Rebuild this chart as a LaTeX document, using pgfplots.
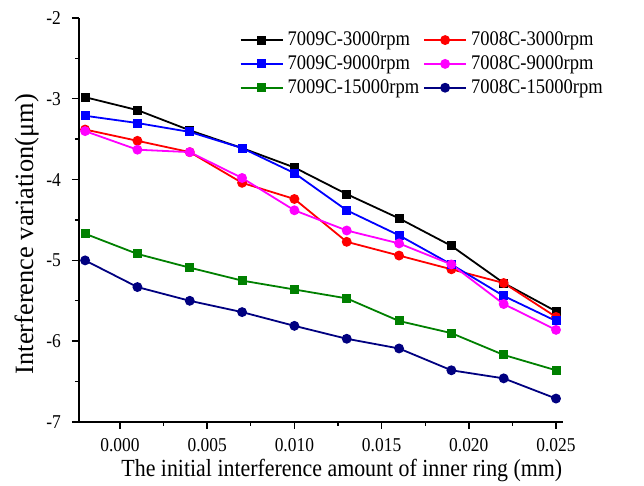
\documentclass[border=0pt]{standalone}
\usepackage{pgfplots}
\pgfplotsset{compat=1.18}
\usepackage{fontspec}
\setmainfont{Liberation Serif}[FakeStretch=0.89]
\newfontfamily\ylabfont{Liberation Serif}
\usetikzlibrary{calc}
\definecolor{cgreen}{RGB}{0,128,0}
\definecolor{cnavy}{RGB}{0,0,128}
\definecolor{cmag}{RGB}{255,0,255}
\definecolor{cred}{RGB}{255,0,0}
\definecolor{cblue}{RGB}{0,0,255}
\begin{document}
\begin{tikzpicture}
\begin{axis}[
  scale only axis, width=242pt, height=202pt,
  xmin=-0.00235, xmax=0.0254, ymin=-7, ymax=-2,
  axis lines*=left,
  x axis line style={-}, y axis line style={-},
  axis line style={line width=0.8pt},
  tick align=outside,
  major tick length=3.5pt, minor tick length=2pt,
  minor x tick num=1, minor y tick num=1,
  tick style={black, line width=0.7pt},
  xtick={0,0.005,0.01,0.015,0.02,0.025},
  ytick={-7,-6,-5,-4,-3,-2},
  scaled x ticks=false,
  /pgf/number format/assume math mode=true,
  xticklabel style={/pgf/number format/.cd, fixed, fixed zerofill, precision=3, /tikz/.cd, anchor=north, inner sep=0pt, yshift=-4.5pt},
  yticklabel style={xshift=-2pt},
  tick label style={font=\fontsize{9.8}{11}\selectfont},
  xlabel={The initial interference amount of inner ring (mm)},
  ylabel={Interference variation(μm)},
  xlabel style={at={(axis description cs:0.543,-0.1337)}, anchor=base, inner sep=1pt, font=\fontsize{12.3}{14}\selectfont},
  ylabel style={at={(axis description cs:-0.108,0.465)}, anchor=center, font=\ylabfont\fontsize{13.2}{15}\selectfont},
  legend columns=2,
  legend cell align=left,
  legend style={draw=none, fill=none, at={(axis description cs:0.319,0.987)}, anchor=north west,
    font=\fontsize{10.4}{12}\selectfont, row sep=-0.5pt,
    /tikz/every even column/.append style={column sep=0pt}},
  legend image code/.code={\draw[mark repeat=2,mark phase=2] plot coordinates {(0pt,0pt) (10.5pt,0pt) (21pt,0pt)};},
  clip=false,
]
\addplot[black, line width=0.9pt, mark=square*, mark size=1.8pt] coordinates {
(-0.002,-2.98) (0.001,-3.14) (0.004,-3.39) (0.007,-3.61) (0.010,-3.85) (0.013,-4.18) (0.016,-4.48) (0.019,-4.82) (0.022,-5.28) (0.025,-5.63)};
\addlegendentry{7009C-3000rpm}
\addplot[cred, line width=0.9pt, mark=*, mark size=2pt] coordinates {
(-0.002,-3.38) (0.001,-3.52) (0.004,-3.66) (0.007,-4.04) (0.010,-4.24) (0.013,-4.77) (0.016,-4.94) (0.019,-5.11) (0.022,-5.28) (0.025,-5.70)};
\addlegendentry{7008C-3000rpm}
\addplot[cblue, line width=0.9pt, mark=square*, mark size=1.8pt] coordinates {
(-0.002,-3.21) (0.001,-3.30) (0.004,-3.41) (0.007,-3.61) (0.010,-3.92) (0.013,-4.38) (0.016,-4.69) (0.019,-5.05) (0.022,-5.44) (0.025,-5.75)};
\addlegendentry{7009C-9000rpm}
\addplot[cmag, line width=0.9pt, mark=*, mark size=2pt] coordinates {
(-0.002,-3.40) (0.001,-3.63) (0.004,-3.66) (0.007,-3.98) (0.010,-4.38) (0.013,-4.63) (0.016,-4.79) (0.019,-5.05) (0.022,-5.54) (0.025,-5.86)};
\addlegendentry{7008C-9000rpm}
\addplot[cgreen, line width=0.9pt, mark=square*, mark size=1.8pt] coordinates {
(-0.002,-4.67) (0.001,-4.92) (0.004,-5.09) (0.007,-5.25) (0.010,-5.36) (0.013,-5.47) (0.016,-5.75) (0.019,-5.90) (0.022,-6.17) (0.025,-6.36)};
\addlegendentry{7009C-15000rpm}
\addplot[cnavy, line width=0.9pt, mark=*, mark size=2pt] coordinates {
(-0.002,-5.00) (0.001,-5.33) (0.004,-5.50) (0.007,-5.64) (0.010,-5.81) (0.013,-5.97) (0.016,-6.09) (0.019,-6.36) (0.022,-6.46) (0.025,-6.71)};
\addlegendentry{7008C-15000rpm}
\coordinate (sw) at (rel axis cs:0,0);
\coordinate (ne) at (rel axis cs:1,1);
\end{axis}
\pgfresetboundingbox
\path ($(sw)+(-39.5pt,-32pt)$) rectangle ($(ne)+(40.5pt,9pt)$);
\end{tikzpicture}
\end{document}
